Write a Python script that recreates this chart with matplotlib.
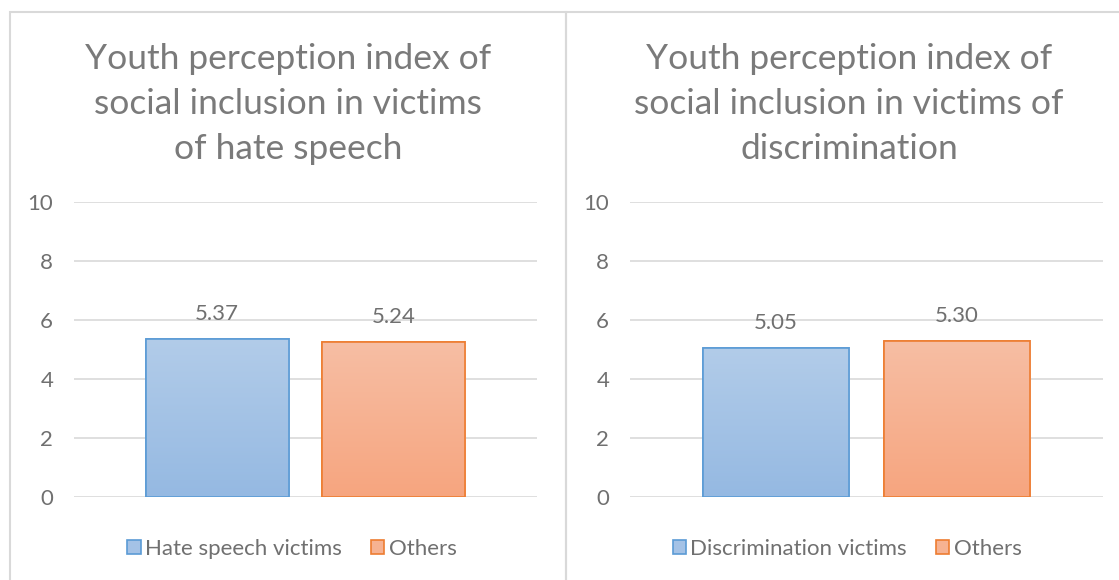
import numpy as np
import matplotlib
matplotlib.use("Agg")
import matplotlib.pyplot as plt
from matplotlib.patches import Rectangle
from matplotlib.colors import LinearSegmentedColormap

# data
titles = ["Youth perception index of\nsocial inclusion in victims\nof hate speech",
          "Youth perception index of\nsocial inclusion in victims of\ndiscrimination"]
series_names = [["Hate speech victims", "Others"],
                ["Discrimination victims", "Others"]]
values = [[5.37, 5.24],
          [5.05, 5.30]]
yticks = [0, 2, 4, 6, 8, 10]

plt.rcParams['font.family'] = ['Lato', 'DejaVu Sans']
text_gray = "#707070"
grid_gray = "#d9d9d9"
edge_cols = ["#5b9bd5", "#ed7d31"]
grad_cols = [("#95b9e2", "#b2cce9"), ("#f6a57f", "#f7bea4")]
mid_cols = ["#a4c2e6", "#f6b292"]

fig = plt.figure(figsize=(11.19, 5.8), dpi=100)
W, H = 1119, 580

# panel borders
fig.patches.append(Rectangle((10 / W, -0.05), 556 / W, 1.05 - 12 / H, transform=fig.transFigure,
                             fill=False, edgecolor=grid_gray, lw=1.5))
fig.patches.append(Rectangle((566 / W, -0.05), 566 / W, 1.05 - 12 / H, transform=fig.transFigure,
                             fill=False, edgecolor=grid_gray, lw=1.5))

axes_boxes = [(74 / W, 1 - 497 / H, 463 / W, 295 / H),
              (630 / W, 1 - 497 / H, 473 / W, 295 / H)]
title_x = [288 / W, 849 / W]
legend_x = [292 / W, 847 / W]

offsets = [-0.191, 0.191]
bar_w = 0.309
small = 16

for p in range(2):
    ax = fig.add_axes(axes_boxes[p])
    ax.set_xlim(-0.5, 0.5)
    ax.set_ylim(0, 10)
    for t in yticks:
        ax.axhline(t, color=grid_gray, lw=1.2, zorder=0)
    bars = []
    for s in range(2):
        b = ax.bar(offsets[s], values[p][s], width=bar_w, color=mid_cols[s],
                   edgecolor=edge_cols[s], linewidth=1.2, zorder=2,
                   label=series_names[p][s])[0]
        bars.append(b)
        # gradient fill clipped to bar
        cmap = LinearSegmentedColormap.from_list("g", list(grad_cols[s]))
        grad = np.linspace(0, 1, 256).reshape(-1, 1)
        x0 = b.get_x()
        im = ax.imshow(grad, cmap=cmap, aspect='auto', origin='lower',
                       extent=(x0, x0 + b.get_width(), 0, b.get_height()), zorder=2.5)
        im.set_clip_path(b)
        edge = Rectangle((x0, 0), b.get_width(), b.get_height(), fill=False,
                         edgecolor=edge_cols[s], lw=1.2, zorder=3)
        ax.add_patch(edge)
        ax.text(offsets[s], values[p][s] + 0.85, f"{values[p][s]:.2f}", ha='center',
                va='center', fontsize=small, color=text_gray)
    ax.set_xlim(-0.5, 0.5)
    ax.set_ylim(0, 10)
    ax.set_yticks(yticks)
    ax.set_xticks([])
    ax.tick_params(axis='y', length=0, pad=15, labelsize=small, labelcolor=text_gray)
    for sp in ax.spines.values():
        sp.set_visible(False)

    fig.text(title_x[p], 1 - 104 / H, titles[p], ha='center', va='center',
             fontsize=25.5, color="#7a7a7a", linespacing=1.5)

    fig.legend(handles=bars, labels=series_names[p], loc='center',
               bbox_to_anchor=(legend_x[p], 1 - 549 / H), ncol=2, frameon=False,
               fontsize=small, handlelength=0.6, handleheight=0.6,
               handletextpad=0.2, columnspacing=1.3, labelcolor=text_gray)

fig.savefig("out.png", dpi=100)
